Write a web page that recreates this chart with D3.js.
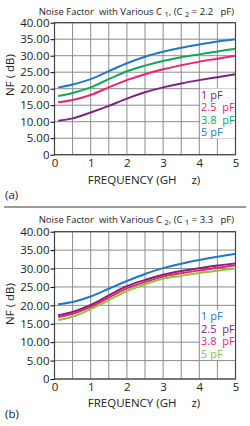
<!DOCTYPE html>
<html>
<head>
<meta charset="utf-8">
<style>
     body {
          margin: 0;
          background: white;
          font-family: "Open Sans";
     }
     svg text {
          white-space: pre;
     }
     .grid line {
          stroke: #8c8c8c;
          stroke-width: 1;
     }
     .axis path {
          display: none;
     }
     .axis line {
          stroke: #000;
     }
     .axis text {
          font-family: "Open Sans";
          font-size: 11.5px;
          fill: #222;
     }
     .curve {
          fill: none;
          stroke-width: 2;
     }
     .title {
          font-size: 9.5px;
          fill: #222;
     }
     .label {
          font-size: 11.5px;
          fill: #222;
     }
     .legend {
          font-size: 11px;
     }
</style>
</head>
<body>
<script src="https://cdn.jsdelivr.net/npm/d3@7"></script>
<script>

     var freq = [0.1, 0.5, 1, 1.5, 2, 2.5, 3, 3.5, 4, 4.5, 5];

     var xTicks = [0, 1, 2, 3, 4, 5];
     var yTicks = [0, 5, 10, 15, 20, 25, 30, 35, 40];

     // (a) various C1, C2 = 2.2 pF
     var a1pF  = [10.3, 11.0, 12.8, 14.8, 17.0, 18.9, 20.4, 21.6, 22.6, 23.5, 24.4];
     var a25pF = [15.9, 16.6, 18.1, 20.4, 22.6, 24.4, 25.9, 27.1, 28.2, 29.1, 30.0];
     var a38pF = [17.8, 18.7, 20.4, 22.9, 25.3, 27.0, 28.4, 29.5, 30.4, 31.3, 32.1];
     var a5pF  = [20.4, 21.3, 22.9, 25.3, 27.7, 29.7, 31.2, 32.4, 33.4, 34.3, 35.0];

     // (b) various C2, C1 = 3.3 pF
     var b1pF  = [20.3, 20.9, 22.4, 24.5, 26.6, 28.5, 30.1, 31.3, 32.3, 33.2, 34.0];
     var b25pF = [17.3, 18.2, 20.1, 22.7, 25.2, 26.9, 28.3, 29.3, 30.1, 30.8, 31.4];
     var b38pF = [16.8, 17.7, 19.6, 22.1, 24.6, 26.3, 27.8, 28.7, 29.5, 30.2, 30.9];
     var b5pF  = [16.0, 16.9, 19.0, 21.4, 23.9, 25.7, 27.2, 28.0, 28.8, 29.4, 30.0];

     var legendA = ["1 pF", "2.5  pF", "3.8  pF", "5 pF"];
     var legendB = ["1 pF", "2.5  pF", "3.8  pF", "5 pF"];

     var purple = "#7b2282", pink = "#ec2470", green = "#12a65a", blue = "#1f78c4", lime = "#8cc63f";

     var svg = d3.select("body").append("svg")
          .attr("width", 250)
          .attr("height", 426);

     function panel(opt) {
          var x = d3.scaleLinear().domain([0, 5]).range([54.5, 235.5]);
          var y = d3.scaleLinear().domain([0, 40]).range([opt.bottom, opt.top]);

          var g = svg.append("g");

          // grid
          var grid = g.append("g").attr("class", "grid");
          grid.selectAll(".v").data(d3.range(0, 5.01, 0.5))
            .enter().append("line")
               .attr("x1", function(d) { return x(d); })
               .attr("x2", function(d) { return x(d); })
               .attr("y1", y(0))
               .attr("y2", y(40));
          grid.selectAll(".h").data(yTicks)
            .enter().append("line")
               .attr("x1", x(0))
               .attr("x2", x(5))
               .attr("y1", function(d) { return y(d); })
               .attr("y2", function(d) { return y(d); });

          // frame
          g.append("rect")
               .attr("x", x(0)).attr("y", y(40))
               .attr("width", x(5) - x(0)).attr("height", y(0) - y(40))
               .attr("fill", "none").attr("stroke", "#444").attr("stroke-width", 1.2);

          var line = d3.line()
               .x(function(d, i) { return x(freq[i]); })
               .y(function(d) { return y(d); })
               .curve(d3.curveCatmullRom.alpha(0.5));

          g.selectAll(".curve").data(opt.series)
            .enter().append("path")
               .attr("class", "curve")
               .attr("stroke", function(d, i) { return opt.colors[i]; })
               .attr("d", line);

          // legend box hides grid behind it
          g.append("rect")
               .attr("x", 200).attr("y", opt.legendY - 10)
               .attr("width", 34.5).attr("height", 50)
               .attr("fill", "white");

          g.selectAll(".legend").data(opt.legend)
            .enter().append("text")
               .attr("class", "legend")
               .attr("x", 201)
               .attr("y", function(d, i) { return opt.legendY + i * 12.5; })
               .attr("fill", function(d, i) { return opt.colors[i]; })
               .text(function(d) { return d; });

          g.append("g")
               .attr("class", "x axis")
               .attr("transform", "translate(0," + y(0) + ")")
               .call(d3.axisBottom(x).tickValues(xTicks).tickSize(0).tickPadding(4)
                    .tickFormat(d3.format("d")));

          g.append("g")
               .attr("class", "y axis")
               .attr("transform", "translate(" + x(0) + ",0)")
               .call(d3.axisLeft(y).tickValues(yTicks).tickSize(4).tickPadding(1)
                    .tickFormat(function(d) { return d == 0 ? "0" : d3.format(".2f")(d); }));

          // title with subscripts
          var t = g.append("text")
               .attr("class", "title")
               .attr("x", 234)
               .attr("y", opt.titleY)
               .attr("text-anchor", "end");
          t.append("tspan").text("Noise Factor  with Various C ");
          t.append("tspan").attr("dy", 2).attr("font-size", "7.5px").text(opt.sub1);
          t.append("tspan").attr("dy", -2).text(", (C ");
          t.append("tspan").attr("dy", 2).attr("font-size", "7.5px").text(opt.sub2);
          t.append("tspan").attr("dy", -2).text(" = " + opt.fixed + "   pF)");

          g.append("text")
               .attr("class", "label")
               .attr("font-size", "12px")
               .attr("transform", "translate(14," + opt.yLabelY + ") rotate(-90)")
               .attr("text-anchor", "middle")
               .text("NF ( dB)");

          g.append("text")
               .attr("class", "label")
               .attr("x", 144)
               .attr("y", opt.xLabelY)
               .attr("text-anchor", "middle")
               .text("FREQUENCY (GH     z)");

          g.append("text")
               .attr("class", "label")
               .attr("x", 5)
               .attr("y", opt.tagY)
               .text(opt.tag);
     }

     panel({
          top: 22.7, bottom: 154.7,
          series: [a1pF, a25pF, a38pF, a5pF],
          colors: [purple, pink, green, blue],
          legend: legendA, legendY: 98.5,
          sub1: "1", sub2: "2", fixed: "2.2",
          titleY: 15, yLabelY: 75, xLabelY: 184, tag: "(a)", tagY: 199
     });

     svg.append("line")
          .attr("x1", 4).attr("x2", 246)
          .attr("y1", 207).attr("y2", 207)
          .attr("stroke", "#9a9a9a").attr("stroke-width", 2);

     panel({
          top: 231.7, bottom: 379,
          series: [b1pF, b25pF, b38pF, b5pF],
          colors: [blue, purple, pink, lime],
          legend: legendB, legendY: 320,
          sub1: "2", sub2: "1", fixed: "3.3",
          titleY: 222.5, yLabelY: 304, xLabelY: 407, tag: "(b)", tagY: 418
     });

</script>
</body>
</html>
